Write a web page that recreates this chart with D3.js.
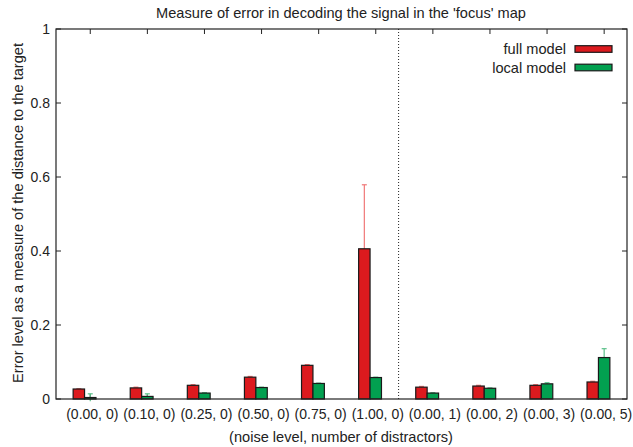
<!DOCTYPE html>
<html><head><meta charset="utf-8">
<script src="https://cdn.jsdelivr.net/npm/d3@7"></script>
<style>body{margin:0;background:#fff}svg{display:block}text{font-family:"Liberation Sans",Arial,sans-serif;fill:#222}</style>
</head><body><svg id="c" width="633" height="447"></svg>
<script>
const categories = ["(0.00, 0)","(0.10, 0)","(0.25, 0)","(0.50, 0)","(0.75, 0)","(1.00, 0)","(0.00, 1)","(0.00, 2)","(0.00, 3)","(0.00, 5)"];
const fullModel = [0.027,0.030,0.037,0.059,0.091,0.406,0.032,0.035,0.037,0.046];
const fullErr   = [0.001,0.002,0.002,0.002,0.002,0.173,0.002,0.002,0.002,0.002];
const localModel = [0.004,0.007,0.016,0.031,0.042,0.058,0.016,0.029,0.041,0.112];
const localErr   = [0.010,0.007,0.001,0.001,0.001,0.001,0.001,0.001,0.003,0.024];
const yTicks = [0,0.2,0.4,0.6,0.8,1];
const seriesNames = ["full model","local model"];
const colors = ["#dc1a1e","#02a050"];
const errColors = ["#f07878","#5cc08a"];
const dividerAt = 5.4;

const svg = d3.select("#c");
const L=56,R=627,T=29,B=399;
const x = d3.scaleLinear().domain([-0.6,9.4]).range([L,R]);
const y = d3.scaleLinear().domain([0,1]).range([B,T]);
const bw = 0.2;
const fs = 14;
const fsT = 14.6;

// ticks
const g = svg.append("g");
yTicks.forEach(t=>{
  g.append("line").attr("x1",L).attr("x2",L+5).attr("y1",y(t)).attr("y2",y(t)).attr("stroke","#222");
  g.append("line").attr("x1",R).attr("x2",R-5).attr("y1",y(t)).attr("y2",y(t)).attr("stroke","#222");
  svg.append("text").attr("x",L-6).attr("y",y(t)).attr("dy","0.35em").attr("text-anchor","end").attr("font-size",fs).text(d3.format("~g")(t));
});
categories.forEach((c,i)=>{
  g.append("line").attr("x1",x(i)).attr("x2",x(i)).attr("y1",B).attr("y2",B-5).attr("stroke","#222");
  g.append("line").attr("x1",x(i)).attr("x2",x(i)).attr("y1",T).attr("y2",T+5).attr("stroke","#222");
  svg.append("text").attr("x",x(i)+2).attr("y",414).attr("dy","0.35em").attr("text-anchor","middle").attr("font-size",fs).text(c);
});

const series = [fullModel, localModel];
const errs = [fullErr, localErr];
const offs = [-0.3,-0.1];
// error bars
series.forEach((s,k)=>{
  s.forEach((v,i)=>{
    const cx = x(i+offs[k]+bw/2);
    const e = errs[k][i];
    svg.append("line").attr("x1",cx).attr("x2",cx).attr("y1",y(v-e)).attr("y2",y(v+e)).attr("stroke",errColors[k]).attr("stroke-width",1.2);
    svg.append("line").attr("x1",cx-2.5).attr("x2",cx+2.5).attr("y1",y(v+e)).attr("y2",y(v+e)).attr("stroke",errColors[k]).attr("stroke-width",1.2);
  });
});
// bars
series.forEach((s,k)=>{
  svg.append("g").selectAll("rect").data(s).join("rect")
    .attr("x",(d,i)=>x(i+offs[k]))
    .attr("width",x(bw)-x(0))
    .attr("y",d=>y(d))
    .attr("height",d=>B-y(d))
    .attr("fill",colors[k]).attr("stroke","#1a1a1a").attr("stroke-width",1.2);
});
// border
svg.append("rect").attr("x",L).attr("y",T).attr("width",R-L).attr("height",B-T).attr("fill","none").attr("stroke","#222").attr("stroke-width",1.2);
// divider
svg.append("line").attr("x1",x(dividerAt)).attr("x2",x(dividerAt)).attr("y1",T).attr("y2",B).attr("stroke","#222").attr("stroke-width",1).attr("stroke-dasharray","1,2");
// legend
seriesNames.forEach((n,k)=>{
  const cy = 49 + k*18.5;
  svg.append("text").attr("x",566).attr("y",cy).attr("dy","0.35em").attr("text-anchor","end").attr("font-size",fsT).text(n);
  svg.append("rect").attr("x",575).attr("y",cy-3.3).attr("width",37).attr("height",6.6).attr("fill",colors[k]).attr("stroke","#1a1a1a").attr("stroke-width",1.2);
});
// titles
svg.append("text").attr("x",341).attr("y",13).attr("dy","0.35em").attr("text-anchor","middle").attr("font-size",fsT).text("Measure of error in decoding the signal in the 'focus' map");
svg.append("text").attr("x",341).attr("y",437).attr("dy","0.35em").attr("text-anchor","middle").attr("font-size",fsT).text("(noise level, number of distractors)");
svg.append("text").attr("transform","translate(18,213) rotate(-90)").attr("dy","0.35em").attr("text-anchor","middle").attr("font-size",fsT).text("Error level as a measure of the distance to the target");
</script></body></html>
